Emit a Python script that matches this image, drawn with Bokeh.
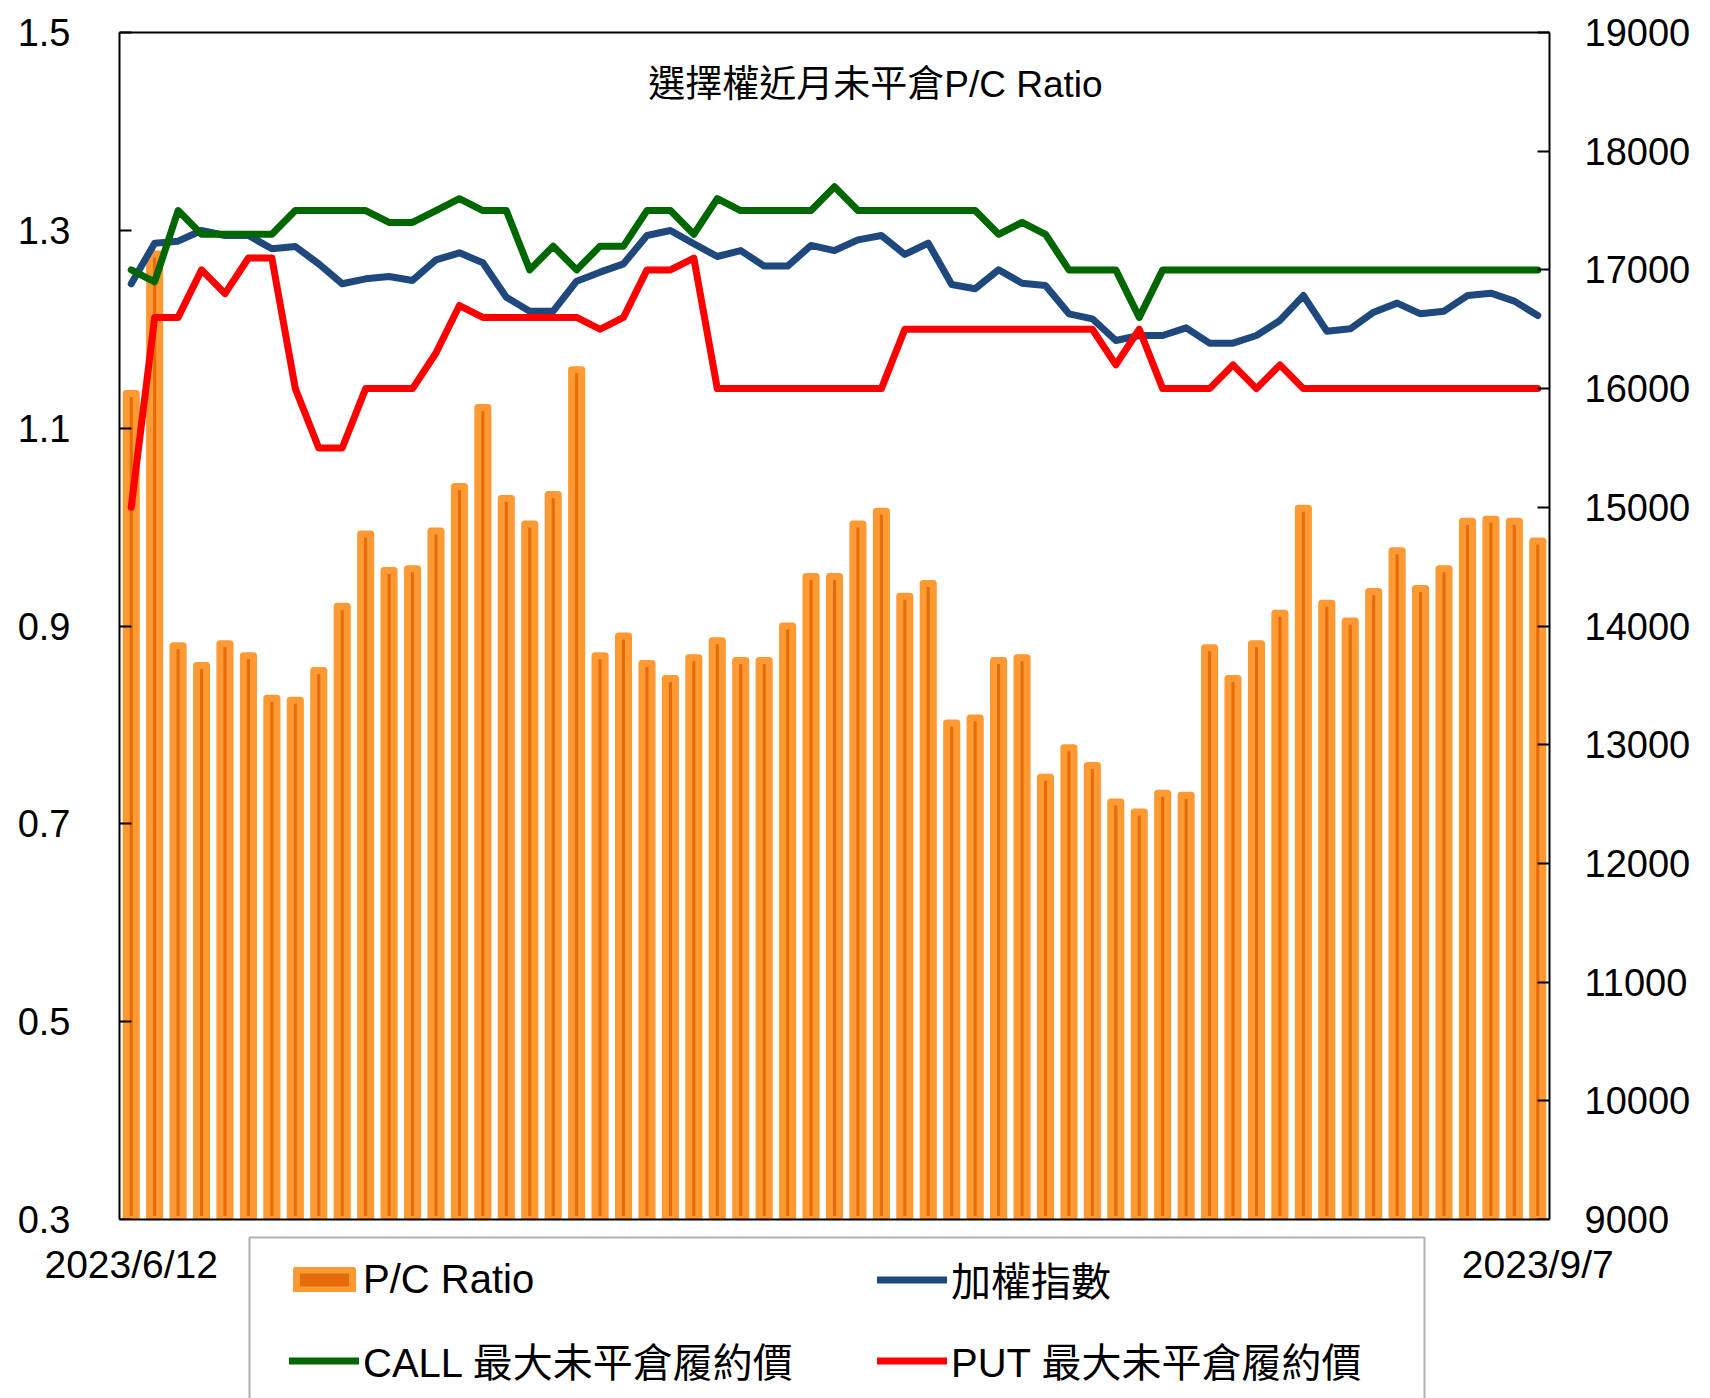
from bokeh.plotting import figure
from bokeh.models import (Range1d, LinearAxis, FixedTicker, Legend, LegendItem,
                          Label, ColumnDataSource, BoxAnnotation, Grid)
from bokeh.embed import file_html
from bokeh.resources import INLINE

# ---------------- data ----------------
date_labels = ["2023/6/12", "2023/9/7"]

pc_ratio = [1.135, 1.276, 0.880, 0.860, 0.882, 0.870, 0.827, 0.825, 0.855, 0.920,
            0.993, 0.956, 0.958, 0.996, 1.041, 1.121, 1.029, 1.003, 1.033, 1.159,
            0.870, 0.890, 0.862, 0.847, 0.868, 0.885, 0.865, 0.865, 0.900, 0.950,
            0.950, 1.003, 1.016, 0.930, 0.943, 0.802, 0.807, 0.865, 0.868, 0.747,
            0.777, 0.759, 0.722, 0.712, 0.731, 0.729, 0.878, 0.847, 0.882, 0.913,
            1.019, 0.923, 0.905, 0.935, 0.976, 0.938, 0.958, 1.006, 1.008, 1.006,
            0.986]

taiex = [16883, 17225, 17242, 17332, 17290, 17290, 17178, 17197, 17051, 16883,
         16925, 16944, 16911, 17085, 17144, 17060, 16770, 16652, 16652, 16905,
         16981, 17051, 17290, 17332, 17220, 17113, 17163, 17032, 17032, 17206,
         17163, 17253, 17290, 17130, 17225, 16877, 16841, 17001, 16888, 16869,
         16630, 16588, 16405, 16447, 16447, 16512, 16383, 16383, 16447, 16574,
         16784, 16484, 16504, 16644, 16720, 16630, 16652, 16784, 16804, 16737,
         16616]

call_strike = [17000, 16900, 17500, 17300, 17300, 17300, 17300, 17500, 17500, 17500,
               17500, 17400, 17400, 17500, 17600, 17500, 17500, 17000, 17200, 17000,
               17200, 17200, 17500, 17500, 17300, 17600, 17500, 17500, 17500, 17500,
               17700, 17500, 17500, 17500, 17500, 17500, 17500, 17300, 17400, 17300,
               17000, 17000, 17000, 16600, 17000, 17000, 17000, 17000, 17000, 17000,
               17000, 17000, 17000, 17000, 17000, 17000, 17000, 17000, 17000, 17000,
               17000]

put_strike = [15000, 16600, 16600, 17000, 16800, 17100, 17100, 16000, 15500, 15500,
              16000, 16000, 16000, 16300, 16700, 16600, 16600, 16600, 16600, 16600,
              16500, 16600, 17000, 17000, 17100, 16000, 16000, 16000, 16000, 16000,
              16000, 16000, 16000, 16500, 16500, 16500, 16500, 16500, 16500, 16500,
              16500, 16500, 16200, 16500, 16000, 16000, 16000, 16200, 16000, 16200,
              16000, 16000, 16000, 16000, 16000, 16000, 16000, 16000, 16000, 16000,
              16000]

left_ticks = [0.3, 0.5, 0.7, 0.9, 1.1, 1.3, 1.5]
right_ticks = [9000, 10000, 11000, 12000, 13000, 14000, 15000, 16000, 17000, 18000, 19000]

title_text = "選擇權近月未平倉P/C Ratio"
legend_labels = ["P/C Ratio", "加權指數", "CALL 最大未平倉履約價", "PUT 最大未平倉履約價"]

# ---------------- layout constants (canvas pixels) ----------------
FONT = "Liberation Sans, Noto Sans CJK TC"
n = len(pc_ratio)
L_MIN, L_MAX = left_ticks[0], left_ticks[-1]
R_MIN, R_MAX = right_ticks[0], right_ticks[-1]
X_MIN, X_MAX = -0.5, n - 0.5

CANVAS_W, CANVAS_H = 1710, 1398
AX_LEFT, AX_RIGHT = 119, 1549      # canvas x of left / right axis lines
AX_TOP, AX_BOTTOM = 32, 1219       # canvas y of top / bottom axis lines

x_ppu = (AX_RIGHT - AX_LEFT) / (X_MAX - X_MIN)
yl_ppu = (AX_BOTTOM - AX_TOP) / (L_MAX - L_MIN)
yr_ppu = (AX_BOTTOM - AX_TOP) / (R_MAX - R_MIN)

def x_of(px):
    return X_MIN + (px - AX_LEFT) / x_ppu

def y_of(py):
    return L_MAX - (py - AX_TOP) / yl_ppu

x_range = Range1d(x_of(0), x_of(CANVAS_W))
y_range = Range1d(y_of(CANVAS_H), y_of(0))
yr_range = Range1d(R_MAX - (CANVAS_H - AX_TOP) / yr_ppu, R_MAX + AX_TOP / yr_ppu)

src = ColumnDataSource(dict(x=list(range(n)), pc=pc_ratio, taiex=taiex,
                            call=call_strike, put=put_strike))

p = figure(frame_width=CANVAS_W, frame_height=CANVAS_H,
           min_border_left=0, min_border_right=0,
           min_border_top=0, min_border_bottom=0,
           x_range=x_range, y_range=y_range,
           x_axis_location=None, y_axis_location=None,
           output_backend="svg", toolbar_location=None)
p.center = [r for r in p.center if not isinstance(r, Grid)]
p.extra_y_ranges = {"idx": yr_range}
p.outline_line_alpha = 0
p.background_fill_color = "white"
p.border_fill_color = "white"

BAR_LIGHT, BAR_DARK = "#FF9933", "#E46C0A"
bars = p.vbar(x="x", top="pc", bottom=L_MIN, width=0.43, source=src,
              fill_color=BAR_DARK, line_color=BAR_LIGHT, line_width=7,
              line_join="round")
# invisible helper that widens the legend swatch of the bars
bar_swatch = p.line(x=[], y=[], line_color=BAR_LIGHT, line_width=27)

LW = 7
l_idx = p.line("x", "taiex", source=src, y_range_name="idx",
               line_color="#1F497D", line_width=LW, line_join="round", line_cap="round")
l_call = p.line("x", "call", source=src, y_range_name="idx",
                line_color="#006600", line_width=LW, line_join="round", line_cap="round")
l_put = p.line("x", "put", source=src, y_range_name="idx",
               line_color="#FF0000", line_width=LW, line_join="round", line_cap="round")

# hide bar strokes spilling below the bottom axis line
p.add_layout(BoxAnnotation(top=L_MIN, left=X_MIN, right=X_MAX, fill_color="white",
                           fill_alpha=1.0, line_alpha=0))

def style_axis(ax, standoff, size="38px"):
    ax.axis_line_color = "black"
    ax.axis_line_width = 2
    ax.major_tick_line_color = "black"
    ax.major_tick_line_width = 2
    ax.major_tick_in = 12
    ax.major_tick_out = 0
    ax.minor_tick_in = 0
    ax.minor_tick_out = 0
    ax.major_label_text_font = FONT
    ax.major_label_text_font_size = size
    ax.major_label_text_color = "black"
    ax.major_label_standoff = standoff

ya = LinearAxis(fixed_location=X_MIN, ticker=FixedTicker(ticks=left_ticks),
                bounds=(L_MIN, L_MAX))
style_axis(ya, 49)
p.add_layout(ya, "left")

ra = LinearAxis(fixed_location=X_MAX, y_range_name="idx",
                ticker=FixedTicker(ticks=right_ticks), bounds=(R_MIN, R_MAX))
style_axis(ra, 35)
p.add_layout(ra, "right")

xa = LinearAxis(fixed_location=L_MIN, ticker=FixedTicker(ticks=[0, n - 1]),
                bounds=(X_MIN, X_MAX),
                major_label_overrides={0: date_labels[0], n - 1: date_labels[1]})
style_axis(xa, 23, "39px")
xa.major_tick_in = 0
xa.level = "overlay"
p.add_layout(xa, "below")

ta = LinearAxis(fixed_location=L_MAX, ticker=FixedTicker(ticks=[]),
                bounds=(X_MIN, X_MAX))
style_axis(ta, 0)
ta.major_tick_in = 0
ta.major_label_text_alpha = 0
p.add_layout(ta, "above")

# title
p.add_layout(Label(x=x_of(875), y=y_of(84), text=title_text, text_align="center",
                   text_baseline="middle", text_font=FONT,
                   text_font_size="37px", text_color="black"))

# legend frame
p.add_layout(BoxAnnotation(left=x_of(249), right=x_of(1424), top=y_of(1237),
                           bottom=y_of(1430), fill_color="white", fill_alpha=1.0,
                           line_color="black", line_width=2))

legend = Legend(items=[
    LegendItem(label=legend_labels[0], renderers=[bar_swatch, bars]),
    LegendItem(label=legend_labels[2], renderers=[l_call]),
    LegendItem(label=legend_labels[1], renderers=[l_idx]),
    LegendItem(label=legend_labels[3], renderers=[l_put]),
], orientation="vertical", nrows=2, location=(289, 8),
    border_line_alpha=0, background_fill_alpha=0,
    padding=0, spacing=21, margin=0,
    glyph_width=70, glyph_height=25, label_standoff=4,
    label_width=493, label_height=60,
    label_text_font=FONT, label_text_font_size="40px", label_text_color="black")
p.add_layout(legend, "center")

open("out.html", "w").write(file_html(p, INLINE))
